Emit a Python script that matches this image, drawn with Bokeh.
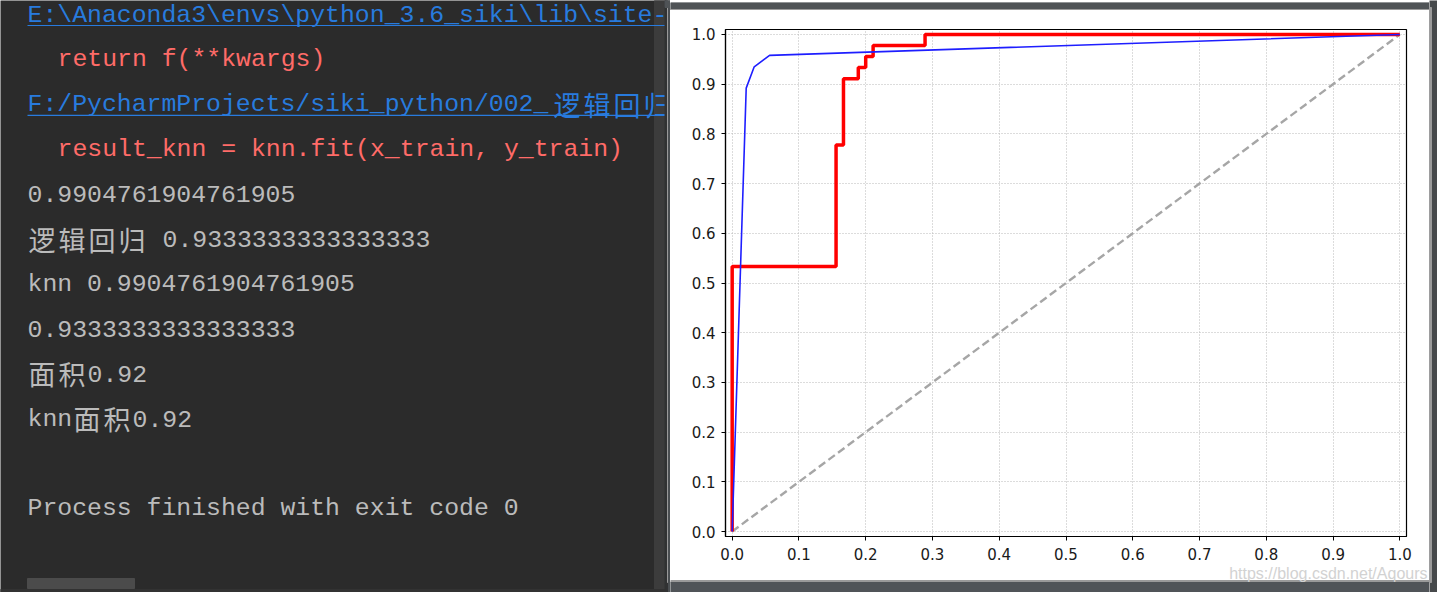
import re
from bokeh.plotting import figure
from bokeh.layouts import row, column
from bokeh.models import Range1d, FixedTicker, PrintfTickFormatter
from bokeh.core.properties import value
from bokeh.embed import file_html
from bokeh.resources import INLINE

# ---------------- data ----------------
# ROC curve 1 (red, step curve)
fpr_red = [0.0, 0.0, 0.1556, 0.1556, 0.1667, 0.1667, 0.1889, 0.1889, 0.2000, 0.2000,
           0.2111, 0.2111, 0.2889, 0.2889, 1.0]
tpr_red = [0.0, 0.5333, 0.5333, 0.7778, 0.7778, 0.9111, 0.9111, 0.9333, 0.9333, 0.9556,
           0.9556, 0.9778, 0.9778, 1.0, 1.0]
# ROC curve 2 (blue)
fpr_blue = [0.0, 0.021, 0.033, 0.056, 1.0]
tpr_blue = [0.0, 0.892, 0.935, 0.958, 1.0]
# chance diagonal
diag_x = [0.0, 1.0]
diag_y = [0.0, 1.0]
tick_values = [0.0, 0.1, 0.2, 0.3, 0.4, 0.5, 0.6, 0.7, 0.8, 0.9, 1.0]

# console output (text, kind)
console_lines = [
    ("E:\\Anaconda3\\envs\\python_3.6_siki\\lib\\site-", "link"),
    ("  return f(**kwargs)", "err"),
    ("F:/PycharmProjects/siki_python/002_逻辑回归", "link"),
    ("  result_knn = knn.fit(x_train, y_train)", "err"),
    ("0.9904761904761905", "out"),
    ("逻辑回归 0.9333333333333333", "out"),
    ("knn 0.9904761904761905", "out"),
    ("0.9333333333333333", "out"),
    ("面积0.92", "out"),
    ("knn面积0.92", "out"),
    ("", "out"),
    ("Process finished with exit code 0", "out"),
]
watermark = "https://blog.csdn.net/Aqours"

# ---------------- styling ----------------
kind_colors = {"link": "#287bde", "err": "#ff6b68", "out": "#bbbbbb"}
CON_BG = "#2b2b2b"
FONT_PX = 24.8
TEXT_X0 = 27.0
FIRST_MID = 14.0
PITCH = 44.9
FRAME_LIGHT = "#9a9a9a"
FRAME_DARK = "#4f5356"

def is_wide(ch):
    return ord(ch) >= 0x2E80

def cells(s):
    return sum(2 if is_wide(c) else 1 for c in s)

def plain(fig):
    fig.axis.visible = False
    fig.grid.visible = False
    return fig

def deco(width, height, xr, yr, bg):
    return plain(figure(width=width, height=height, x_range=Range1d(*xr), y_range=Range1d(*yr),
                        toolbar_location=None, output_backend="svg", min_border=0,
                        background_fill_color=bg, border_fill_color=bg,
                        outline_line_color=None, frame_align=False))

# ---------------- console figure (x 0..670) ----------------
con = deco(670, 592, (0, 670), (592, 0), CON_BG)

# scrollbar track (beneath text)
con.quad(left=[654], right=[665], top=[0], bottom=[589], color="#3c3c3c")

a_x, a_y, a_t, a_c = [], [], [], []
w_x, w_y, w_t, w_c = [], [], [], []
u_x0, u_x1, u_y, u_c = [], [], [], []
pattern = re.compile(r"[\u2E80-\uFFFF]+|[^\s\u2E80-\uFFFF]+(?: [^\s\u2E80-\uFFFF]+)*")
for i, (txt, kind) in enumerate(console_lines):
    mid = FIRST_MID + PITCH * i
    col = kind_colors[kind]
    for m in pattern.finditer(txt):
        start_cell = cells(txt[:m.start()])
        seg = m.group(0)
        if is_wide(seg[0]):
            c = start_cell
            for ch in seg:
                w_x.append(TEXT_X0 + c * 15.0 + 1.0)
                w_y.append(mid)
                w_t.append(ch)
                w_c.append(col)
                c += 2
        else:
            a_x.append(TEXT_X0 + start_cell * 15.0)
            a_y.append(mid)
            a_t.append(seg)
            a_c.append(col)
    if kind == "link" and txt:
        u_x0.append(TEXT_X0)
        u_x1.append(TEXT_X0 + cells(txt) * 15.0)
        u_y.append(mid + 11)
        u_c.append(col)

con.text(x=a_x, y=a_y, text=a_t, text_color=a_c, text_font=value("Liberation Mono"),
         text_font_size=f"{FONT_PX}px", text_baseline="middle", text_align="left")
con.text(x=w_x, y=w_y, text=w_t, text_color=w_c, text_font=value("Noto Sans CJK SC"),
         text_font_size="27px", text_baseline="middle", text_align="left")
con.segment(x0=u_x0, y0=u_y, x1=u_x1, y1=u_y, line_color=u_c, line_width=1.2)

# window frame at right edge of console
con.quad(left=[664.5], right=[667], top=[0], bottom=[592], color="#313233")
con.quad(left=[667], right=[668], top=[7], bottom=[582], color=FRAME_LIGHT)
con.quad(left=[668], right=[670], top=[7], bottom=[592], color="#4b4f52")
con.quad(left=[664.5], right=[670], top=[0], bottom=[7], color=FRAME_DARK)
# horizontal scrollbar thumb and bottom edge
con.quad(left=[27], right=[134], top=[578], bottom=[588], color="#4b4b4b")
con.quad(left=[0], right=[664.5], top=[589], bottom=[592], color="#323232")

# ---------------- top frame strip (x 670..1429, y 0..10) ----------------
top = deco(759, 10, (670, 1429), (10, 0), "white")
top.quad(left=[670], right=[1429], top=[0], bottom=[7], color=FRAME_DARK)
top.quad(left=[670], right=[1429], top=[7], bottom=[9], color=FRAME_LIGHT)

# ---------------- ROC figure (x 670..1429, y 10..565) ----------------
p = figure(width=759, height=555, x_range=Range1d(-0.01, 1.01), y_range=Range1d(-0.01, 1.01),
           toolbar_location=None, output_backend="svg", frame_align=False,
           min_border_left=55, min_border_right=23, min_border_top=19, min_border_bottom=29,
           background_fill_color="white", border_fill_color="white",
           outline_line_color="black", outline_line_width=1.2)

xt = FixedTicker(ticks=tick_values, minor_ticks=[])
yt = FixedTicker(ticks=tick_values, minor_ticks=[])
p.xaxis.ticker = xt
p.yaxis.ticker = yt
p.xgrid.ticker = xt
p.ygrid.ticker = yt
for ax in (p.xaxis, p.yaxis):
    ax.formatter = PrintfTickFormatter(format="%.1f")
    ax.axis_line_color = "black"
    ax.axis_line_width = 1.2
    ax.major_tick_line_color = "black"
    ax.major_tick_line_width = 1
    ax.major_tick_out = 4
    ax.major_tick_in = 0
    ax.minor_tick_line_color = None
    ax.major_label_text_font = "DejaVu Sans"
    ax.major_label_text_font_size = "15px"
    ax.major_label_text_color = "#1a1a1a"
p.xaxis.major_label_standoff = 7
p.yaxis.major_label_standoff = 6

for g in (p.xgrid, p.ygrid):
    g.grid_line_color = "#b8b8b8"
    g.grid_line_dash = "1 2"
    g.grid_line_width = 1

p.line(diag_x, diag_y, line_color="#a6a6a6", line_width=2.4, line_dash="8 4")
p.line(fpr_red, tpr_red, line_color="#ff0000", line_width=3.5)
p.line(fpr_blue, tpr_blue, line_color="#1e1eff", line_width=1.6)

# ---------------- bottom strip with watermark (y 565..592) ----------------
bot = deco(759, 27, (670, 1429), (592, 565), "white")
bot.quad(left=[670], right=[1429], top=[580], bottom=[582], color=FRAME_LIGHT)
bot.quad(left=[670], right=[1429], top=[582], bottom=[592], color="#505458")
bot.text(x=[1427], y=[572.5], text=[watermark], text_align="right", text_baseline="middle",
         text_color="#d2d2d2", text_font=value("Liberation Sans"), text_font_size="16px")

# ---------------- right frame strip (x 1429..1437) ----------------
rs = deco(8, 592, (1429, 1437), (592, 0), "#46494b")
rs.quad(left=[1429], right=[1431], top=[7], bottom=[582], color=FRAME_LIGHT)

layout = row(con, column(top, p, bot), rs)

with open("out.html", "w") as f:
    f.write(file_html(layout, INLINE))
